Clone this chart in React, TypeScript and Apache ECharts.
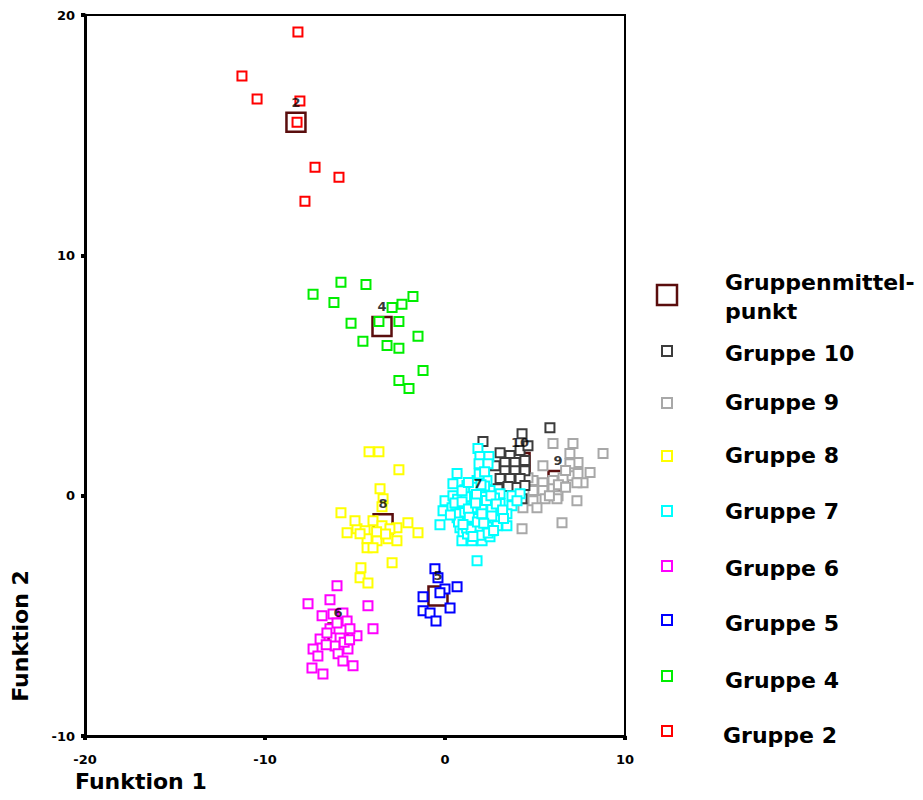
import React, { useEffect, useRef } from "react";
import * as echarts from "echarts";

// ---- Data (discriminant scores: Funktion 1, Funktion 2) ----
const gruppe2: [number, number][] = [
  [-8.17, 19.29], [-11.28, 17.46], [-10.44, 16.5], [-8.06, 16.42], [-8.22, 15.54],
  [-7.22, 13.67], [-5.89, 13.25], [-7.78, 12.25],
];
const gruppe4: [number, number][] = [
  [-7.33, 8.38], [-5.78, 8.88], [-4.39, 8.79], [-6.17, 8.04], [-5.22, 7.17],
  [-2.94, 7.83], [-2.39, 7.96], [-1.78, 8.29], [-3.67, 7.25], [-2.56, 7.25],
  [-4.56, 6.42], [-3.22, 6.25], [-2.56, 6.13], [-1.5, 6.63], [-1.22, 5.21],
  [-2.56, 4.79], [-2.0, 4.46],
];
const gruppe5: [number, number][] = [
  [-0.56, -3.04], [-0.39, -3.42], [0.67, -3.79], [0.0, -3.88], [-1.22, -4.21],
  [-0.28, -4.04], [0.28, -4.67], [-1.22, -4.79], [-0.83, -4.88], [-0.5, -5.21],
];
const gruppe6: [number, number][] = [
  [-6.0, -3.75], [-7.61, -4.5], [-6.39, -4.33], [-4.28, -4.58], [-6.83, -5.0],
  [-6.22, -4.92], [-5.67, -4.88], [-5.44, -5.21], [-4.0, -5.54], [-6.39, -5.54],
  [-6.94, -5.96], [-4.89, -5.83], [-5.83, -5.92], [-7.33, -6.38], [-6.11, -6.25],
  [-5.39, -6.38], [-7.06, -6.67], [-5.94, -6.58], [-5.67, -6.88], [-5.11, -7.08],
  [-7.39, -7.17], [-6.78, -7.42], [-6.56, -5.71], [-5.28, -5.54], [-6.0, -5.3],
  [-5.6, -6.1], [-6.6, -6.2], [-5.3, -6.0],
];
const gruppe7: [number, number][] = [
  [1.83, 1.96], [1.94, 1.63], [2.44, 1.63], [1.89, 1.33], [2.39, 1.33],
  [0.67, 0.92], [0.44, 0.5], [1.22, 0.42], [1.78, 0.63], [2.33, 0.63],
  [0.0, -0.21], [0.44, 0.0], [1.0, 0.0], [1.39, 0.13], [1.94, 0.21],
  [2.5, 0.21], [3.06, 0.08], [3.72, 0.0], [4.17, 0.08], [-0.11, -0.63],
  [0.39, -0.5], [0.83, -0.42], [1.39, -0.29], [1.94, -0.29], [2.5, -0.33],
  [3.06, -0.33], [3.72, -0.42], [4.0, -0.21], [0.67, -0.92], [1.22, -0.75],
  [1.78, -0.71], [2.33, -0.75], [2.89, -0.83], [3.44, -0.75], [-0.28, -1.21],
  [0.83, -1.33], [1.39, -1.17], [1.94, -1.17], [2.5, -1.17], [3.06, -1.13],
  [3.44, -1.25], [1.0, -1.58], [1.56, -1.46], [2.11, -1.54], [2.61, -1.46],
  [0.94, -1.88], [1.5, -1.88], [2.06, -1.88], [2.5, -1.71], [1.78, -2.71],
  [1.1, 0.25], [1.6, 0.35], [2.2, 0.4], [0.7, -0.15], [1.15, -0.05],
  [1.65, -0.1], [2.2, -0.05], [2.75, -0.1], [0.9, -0.7], [1.5, -0.5],
  [2.05, -0.5], [2.6, -0.55], [1.1, -1.05], [1.65, -0.95], [2.2, -0.95],
  [2.75, -1.0], [1.25, -1.6], [1.85, -1.35], [2.35, -1.3], [1.2, -1.35],
  [0.55, -0.3], [0.6, -0.75], [0.75, -1.1], [0.95, 0.2], [0.95, -0.25],
  [1.3, 0.55], [1.3, -0.55], [1.35, -0.9], [1.45, -1.4], [1.75, 0.05],
  [1.7, -0.3], [1.8, -1.1], [1.95, -1.65], [2.0, 0.45], [2.05, -0.75],
  [2.3, -0.2], [2.4, -1.55], [2.55, 0.0], [2.6, -0.85], [2.85, -0.35],
  [2.9, -1.25], [3.2, -0.6], [3.25, -0.95], [1.0, -1.2], [1.55, -1.7],
  [2.15, -1.15], [2.7, -1.45], [0.3, -0.8], [1.9, 0.9], [2.2, 1.0],
];
const gruppe8: [number, number][] = [
  [-4.22, 1.83], [-3.67, 1.83], [-2.56, 1.08], [-3.61, 0.29], [-3.44, -0.13],
  [-3.5, -0.46], [-5.78, -0.71], [-4.0, -1.04], [-5.44, -1.54], [-4.89, -1.38],
  [-4.44, -1.46], [-2.06, -1.13], [-2.67, -1.33], [-1.5, -1.54], [-4.33, -1.79],
  [-3.78, -1.88], [-3.17, -1.79], [-2.67, -1.88], [-4.33, -2.17], [-4.0, -2.17],
  [-4.72, -1.58], [-2.94, -2.79], [-4.67, -3.0], [-4.72, -3.42], [-4.28, -3.63],
  [-3.5, -1.25], [-5.0, -1.04], [-3.06, -1.38], [-3.8, -1.5], [-3.3, -1.6],
];
const gruppe9: [number, number][] = [
  [7.11, 2.17], [8.78, 1.75], [6.0, 2.17], [6.94, 1.75], [5.44, 1.25],
  [7.39, 1.38], [6.94, 1.33], [6.94, 0.83], [7.39, 0.92], [7.67, 0.54],
  [7.33, 0.54], [6.56, 0.75], [6.0, 0.63], [5.44, 0.54], [4.89, 0.63],
  [4.89, 0.21], [5.44, 0.21], [6.0, 0.29], [6.28, 0.0], [5.56, -0.13],
  [4.89, -0.21], [4.33, -0.5], [5.11, -0.5], [7.33, -0.21], [6.22, -0.13],
  [6.5, -1.13], [4.28, -1.38], [4.61, 0.75], [8.06, 0.96], [6.3, 0.45],
  [6.7, 0.35], [5.8, 0.0], [6.7, 1.05],
];
const gruppe10: [number, number][] = [
  [2.11, 2.25], [3.06, 1.79], [3.61, 1.67], [4.17, 1.88], [4.61, 2.08],
  [4.28, 2.58], [5.83, 2.83], [3.33, 1.38], [3.89, 1.38], [4.44, 1.46],
  [2.78, 1.25], [3.33, 1.04], [3.89, 1.04], [4.44, 1.04], [3.06, 0.71],
  [3.61, 0.71], [4.17, 0.71], [2.94, 0.29], [3.5, 0.38], [4.44, 0.42],
  [4.28, -0.13],
];
// Group centroids
const centroidLabels = ["2", "4", "8", "5", "6", "7", "10", "9"];
const centroidX = [-8.28, -3.5, -3.44, -0.39, -5.94, 1.83, 4.17, 6.28];
const centroidY = [15.54, 7.04, -1.17, -4.17, -5.71, -0.33, 1.38, 0.63];

const xTicks = { min: -20, max: 10, interval: 10 };
const yTicks = { min: -10, max: 20, interval: 10 };

const groupNames = ["Gruppe 10", "Gruppe 9", "Gruppe 8", "Gruppe 7", "Gruppe 6", "Gruppe 5", "Gruppe 4", "Gruppe 2"];
const groupColors = ["#3c3c3c", "#a8a8a8", "#ffff00", "#00ffff", "#ff00ff", "#0000ff", "#00ee00", "#ff0000"];
const groupData = [gruppe10, gruppe9, gruppe8, gruppe7, gruppe6, gruppe5, gruppe4, gruppe2];
const centroidColor = "#5a0d0d";

const FONT = "DejaVu Sans";

export default function App() {
  const ref = useRef<HTMLDivElement>(null);
  useEffect(() => {
    if (!ref.current) return;
    const chart = echarts.init(ref.current, null, { renderer: "svg" });
    const centroidData = centroidX.map((x, i) => ({ value: [x, centroidY[i]], name: centroidLabels[i] }));

    const drawOrder = [1, 0, 2, 4, 5, 6, 7, 3];
    const groupSeries = drawOrder.map((gi) => ({
      type: "scatter",
      name: groupNames[gi],
      data: groupData[gi],
      symbol: "rect",
      symbolSize: 9,
      z: 3,
      itemStyle: { color: "#ffffff", borderColor: groupColors[gi], borderWidth: 2, opacity: 1 },
      emphasis: { disabled: true },
    }));

    const legendYs = [351, 403, 456, 511, 566, 620, 676, 731];
    const legendTextYs = [353, 402, 455, 511, 568, 623, 680, 735];
    const legendGraphics: any[] = [
      {
        type: "rect",
        shape: { x: 657, y: 285, width: 20, height: 20 },
        style: { fill: "none", stroke: centroidColor, lineWidth: 2.5 },
      },
      {
        type: "text", x: 725, y: 282,
        style: { text: "Gruppenmittel-", font: `bold 22px '${FONT}'`, fill: "#000", verticalAlign: "middle" },
      },
      {
        type: "text", x: 725, y: 311,
        style: { text: "punkt", font: `bold 22px '${FONT}'`, fill: "#000", verticalAlign: "middle" },
      },
    ];
    groupNames.forEach((n, i) => {
      legendGraphics.push({
        type: "rect",
        shape: { x: 662, y: legendYs[i] - 5, width: 10, height: 10 },
        style: { fill: "none", stroke: groupColors[i], lineWidth: 2 },
      });
      legendGraphics.push({
        type: "text", x: i === 7 ? 723 : 725, y: legendTextYs[i],
        style: { text: n, font: `bold 22px '${FONT}'`, fill: "#000", verticalAlign: "middle" },
      });
    });
    legendGraphics.push({
      type: "text", x: 75, y: 781,
      style: { text: "Funktion 1", font: `bold 22px '${FONT}'`, fill: "#000", verticalAlign: "middle" },
    });
    legendGraphics.push({
      type: "text", x: 20, y: 636, rotation: Math.PI / 2,
      style: { text: "Funktion 2", font: `bold 22px '${FONT}'`, fill: "#000", align: "center", verticalAlign: "middle" },
    });

    chart.setOption({
      animation: false,
      backgroundColor: "#ffffff",
      grid: { left: 85, top: 15, width: 540, height: 721, show: true, borderColor: "#000", borderWidth: 2, backgroundColor: "transparent" },
      xAxis: {
        type: "value", min: xTicks.min, max: xTicks.max, interval: xTicks.interval,
        splitLine: { show: false },
        axisLine: { show: true, onZero: false, lineStyle: { color: "#000", width: 3 } },
        axisTick: { show: true, length: 4, lineStyle: { color: "#000", width: 4 } },
        axisLabel: { color: "#000", fontFamily: FONT, fontWeight: "bold", fontSize: 13, margin: 17 },
      },
      yAxis: {
        type: "value", min: yTicks.min, max: yTicks.max, interval: yTicks.interval,
        splitLine: { show: false },
        axisLine: { show: true, onZero: false, lineStyle: { color: "#000", width: 3 } },
        axisTick: { show: true, length: 4, lineStyle: { color: "#000", width: 4 } },
        axisLabel: { color: "#000", fontFamily: FONT, fontWeight: "bold", fontSize: 13, margin: 10 },
      },
      series: [
        {
          type: "scatter",
          name: "Gruppenmittelpunkt",
          data: centroidData,
          symbol: "rect",
          symbolSize: 19,
          z: 2,
          itemStyle: { color: "rgba(0,0,0,0)", borderColor: centroidColor, borderWidth: 2.5, opacity: 1 },
          emphasis: { disabled: true },
        },
        ...groupSeries,
        {
          type: "scatter",
          name: "Zentroid-Beschriftung",
          data: centroidData,
          symbol: "rect",
          symbolSize: 19,
          zlevel: 1,
          z: 10,
          itemStyle: { color: "rgba(0,0,0,0)", borderColor: "rgba(0,0,0,0)", borderWidth: 0 },
          label: {
            show: true, position: "top", distance: 4, offset: [-4, 0],
            formatter: (p: any) => p.name,
            color: "#000", fontFamily: FONT, fontWeight: "bold", fontSize: 13,
          },
          labelLayout: { hideOverlap: false },
          emphasis: { disabled: true },
        },
      ],
      graphic: legendGraphics,
    });
    return () => chart.dispose();
  }, []);
  return <div ref={ref} style={{ position: "fixed", left: 0, top: 0, width: 923, height: 800, background: "#fff" }} />;
}
